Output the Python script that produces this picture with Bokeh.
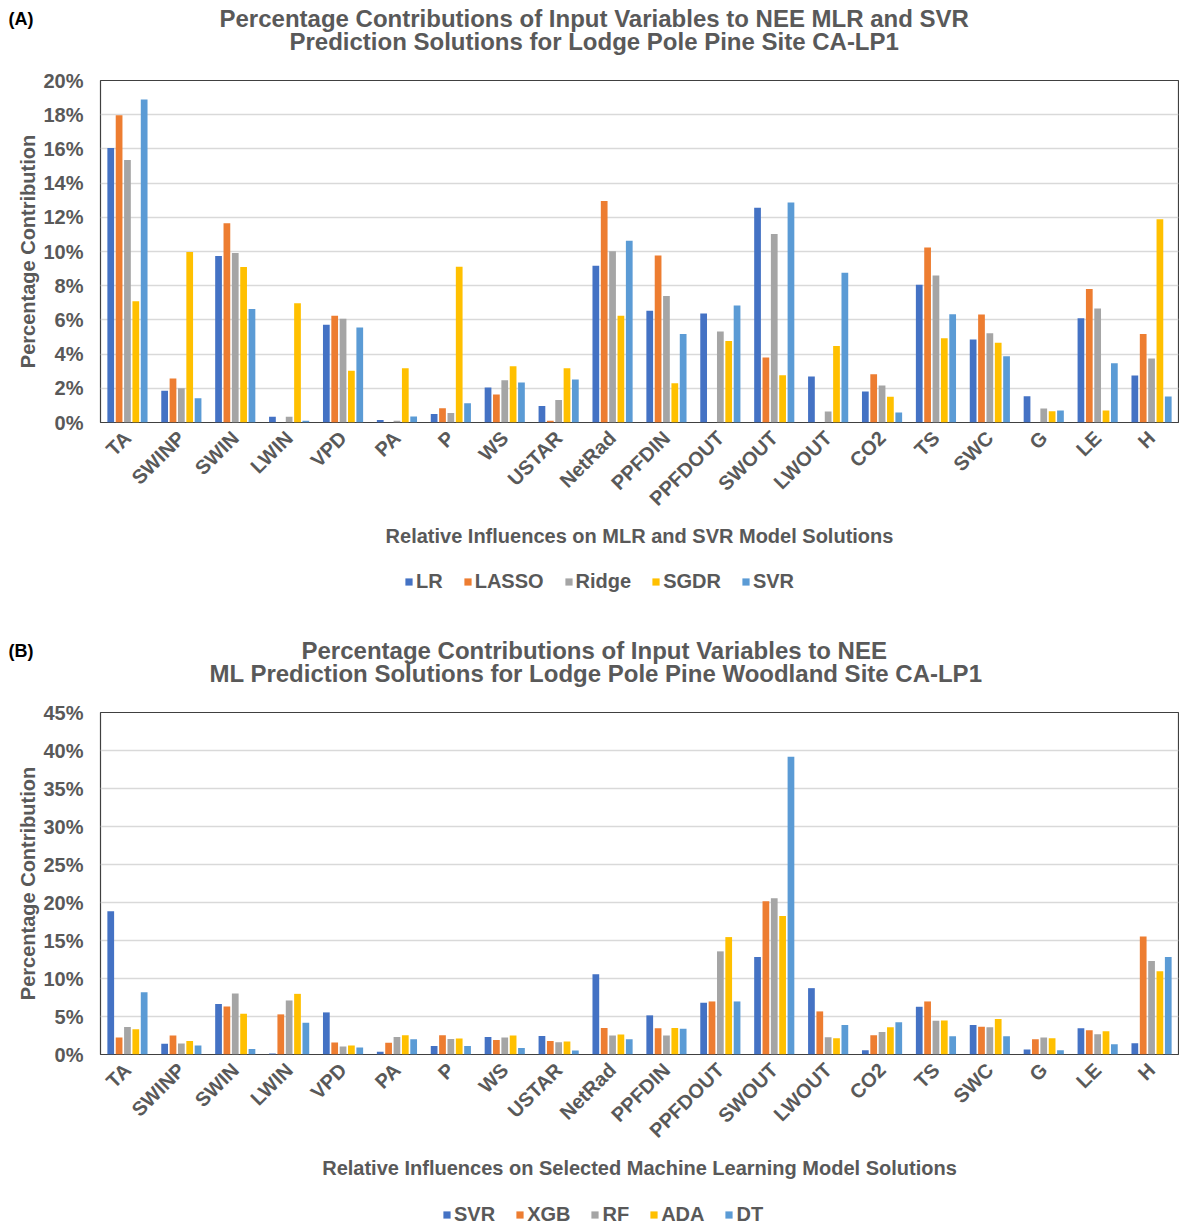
from bokeh.plotting import figure
from bokeh.models import (ColumnDataSource, Legend, LegendItem, Title,
                          SingleIntervalTicker, PrintfTickFormatter, Range1d)
from bokeh.transform import dodge
from bokeh.layouts import column
from bokeh.embed import file_html
from bokeh.resources import INLINE
from math import pi

variables = ["TA", "SWINP", "SWIN", "LWIN", "VPD", "PA", "P", "WS", "USTAR", "NetRad",
             "PPFDIN", "PPFDOUT", "SWOUT", "LWOUT", "CO2", "TS", "SWC", "G", "LE", "H"]

# Panel A (MLR and SVR), percent
a_LR    = [16.05, 1.85, 9.74, 0.33, 5.71, 0.14, 0.49, 2.04, 0.97, 9.17, 6.54, 6.37, 12.56, 2.69, 1.81, 8.06, 4.85, 1.54, 6.10, 2.75]
a_LASSO = [17.97, 2.57, 11.65, 0.0, 6.25, 0.0, 0.84, 1.64, 0.10, 12.95, 9.76, 0.0, 3.80, 0.0, 2.82, 10.24, 6.31, 0.0, 7.81, 5.18]
a_Ridge = [15.35, 2.00, 9.91, 0.33, 6.06, 0.10, 0.56, 2.47, 1.32, 10.01, 7.40, 5.32, 11.02, 0.64, 2.16, 8.59, 5.22, 0.82, 6.66, 3.74]
a_SGDR  = [7.09, 9.97, 9.09, 6.97, 3.02, 3.17, 9.11, 3.29, 3.17, 6.25, 2.30, 4.77, 2.77, 4.48, 1.50, 4.93, 4.67, 0.66, 0.70, 11.88]
a_SVR   = [18.89, 1.42, 6.64, 0.10, 5.55, 0.35, 1.13, 2.34, 2.51, 10.63, 5.18, 6.84, 12.87, 8.76, 0.58, 6.33, 3.88, 0.70, 3.47, 1.52]

# Panel B (ML models), percent
b_SVR = [18.85, 1.40, 6.63, 0.13, 5.54, 0.35, 1.13, 2.31, 2.44, 10.56, 5.15, 6.81, 12.83, 8.73, 0.57, 6.28, 3.88, 0.65, 3.45, 1.48]
b_XGB = [2.23, 2.49, 6.33, 5.28, 1.57, 1.53, 2.53, 1.92, 1.79, 3.49, 3.45, 6.98, 20.16, 5.67, 2.53, 6.98, 3.66, 2.01, 3.18, 15.53]
b_RF  = [3.62, 1.44, 8.03, 7.11, 1.05, 2.31, 2.05, 2.23, 1.61, 2.49, 2.49, 13.57, 20.55, 2.27, 2.97, 4.45, 3.58, 2.23, 2.66, 12.30]
b_ADA = [3.32, 1.79, 5.37, 7.98, 1.18, 2.53, 2.09, 2.49, 1.70, 2.62, 3.49, 15.45, 18.24, 2.14, 3.58, 4.49, 4.67, 2.14, 3.05, 10.95]
b_DT  = [8.20, 1.18, 0.74, 4.19, 0.92, 2.01, 1.13, 0.87, 0.52, 2.01, 3.40, 6.98, 39.18, 3.88, 4.23, 2.40, 2.40, 0.57, 1.35, 12.83]

a_names = ["LR", "LASSO", "Ridge", "SGDR", "SVR"]
b_names = ["SVR", "XGB", "RF", "ADA", "DT"]
colors = ["#4472C4", "#ED7D31", "#A5A5A5", "#FFC000", "#5B9BD5"]

FONT = "Liberation Sans"
GRAY = "#595959"
W = 1179
TOP = 80
FH = 342
BOTTOM = 130


def make_source(names, series):
    data = {"var": variables}
    for n, s in zip(names, series):
        data[n] = s
    return ColumnDataSource(data)


def make_panel(tag, title1, title2, off1, off2, xlabel, ymax, ystep, names, src):
    p = figure(x_range=variables, y_range=Range1d(0, ymax), width=W, height=TOP + FH + BOTTOM,
               output_backend="svg", toolbar_location=None,
               min_border_left=100, min_border_right=1, min_border_top=TOP,
               min_border_bottom=BOTTOM)
    p.add_layout(Title(text=title2, align="left", offset=off2, text_font=FONT,
                       text_font_size="24px", text_font_style="bold", text_color=GRAY,
                       standoff=50.8), "above")
    p.add_layout(Title(text=title1, align="left", offset=off1, text_font=FONT,
                       text_font_size="24px", text_font_style="bold", text_color=GRAY,
                       standoff=-63), "above")
    p.add_layout(Title(text=tag, align="left", offset=-92, text_font=FONT,
                       text_font_size="18px", text_font_style="bold", text_color="#000000",
                       standoff=-56), "above")
    offsets = [-0.31, -0.155, 0.0, 0.155, 0.31]
    for n, c, off in zip(names, colors, offsets):
        p.vbar(x=dodge("var", off, range=p.x_range), top=n, width=0.125, source=src,
               fill_color=c, line_color=None)

    p.yaxis.ticker = SingleIntervalTicker(interval=ystep)
    p.yaxis.formatter = PrintfTickFormatter(format="%d%%")
    p.yaxis.axis_label = "Percentage Contribution"
    p.xaxis.axis_label = xlabel
    for ax in (p.xaxis, p.yaxis):
        ax.axis_label_text_font = FONT
        ax.axis_label_text_font_style = "bold"
        ax.axis_label_text_font_size = "20px"
        ax.axis_label_text_color = GRAY
        ax.major_label_text_font = FONT
        ax.major_label_text_font_style = "bold"
        ax.major_label_text_font_size = "20px"
        ax.major_label_text_color = GRAY
        ax.major_tick_line_color = None
        ax.minor_tick_line_color = None
        ax.axis_line_color = None
    p.yaxis.axis_label_standoff = 1
    p.yaxis.major_label_standoff = 11
    p.xaxis.major_label_orientation = pi / 4
    p.xaxis.major_label_standoff = 6
    p.xaxis.axis_label_standoff = 4
    p.xgrid.grid_line_color = None
    p.ygrid.grid_line_color = "#D9D9D9"
    p.ygrid.grid_line_width = 1.5
    p.outline_line_color = "#404040"
    p.outline_line_width = 1.2
    p.x_range.range_padding = 0
    return p


def make_legend(names, src, height, lx, ly):
    # Legend strip: its bars lie outside the visible y range, only the legend is shown.
    lf = figure(width=W, height=height, output_backend="svg", toolbar_location=None,
                x_axis_type=None, y_axis_type=None, x_range=variables,
                y_range=Range1d(1000, 1001), min_border=0)
    lf.outline_line_color = None
    lf.xgrid.grid_line_color = None
    lf.ygrid.grid_line_color = None
    items = []
    for n, c in zip(names, colors):
        r = lf.vbar(x="var", top=n, width=0.125, source=src, fill_color=c, line_color=None)
        items.append(LegendItem(label=n, renderers=[r]))
    legend = Legend(items=items, orientation="horizontal", location=(lx, ly),
                    label_text_font=FONT, label_text_font_size="20px", label_text_font_style="bold",
                    label_text_color=GRAY, glyph_width=9, glyph_height=9, spacing=20,
                    label_standoff=3, border_line_color=None, background_fill_alpha=0,
                    padding=0, margin=0)
    lf.add_layout(legend, "center")
    return lf


src_a = make_source(a_names, [a_LR, a_LASSO, a_Ridge, a_SGDR, a_SVR])
src_b = make_source(b_names, [b_SVR, b_XGB, b_RF, b_ADA, b_DT])

pa = make_panel("(A)", "Percentage Contributions of Input Variables to NEE MLR and SVR",
                "Prediction Solutions for Lodge Pole Pine Site CA-LP1", 119, 189,
                "Relative Influences on MLR and SVR Model Solutions", 20, 2, a_names, src_a)
la = make_legend(a_names, src_a, 80, 304, 39)
pb = make_panel("(B)", "Percentage Contributions of Input Variables to NEE",
                "ML Prediction Solutions for Lodge Pole Pine Woodland Site CA-LP1", 201, 109,
                "Relative Influences on Selected Machine Learning Model Solutions", 45, 5,
                b_names, src_b)
lb = make_legend(b_names, src_b, 42, 342, 0.5)

layout = column(pa, la, pb, lb, spacing=0)
open("out.html", "w").write(file_html(layout, INLINE))
